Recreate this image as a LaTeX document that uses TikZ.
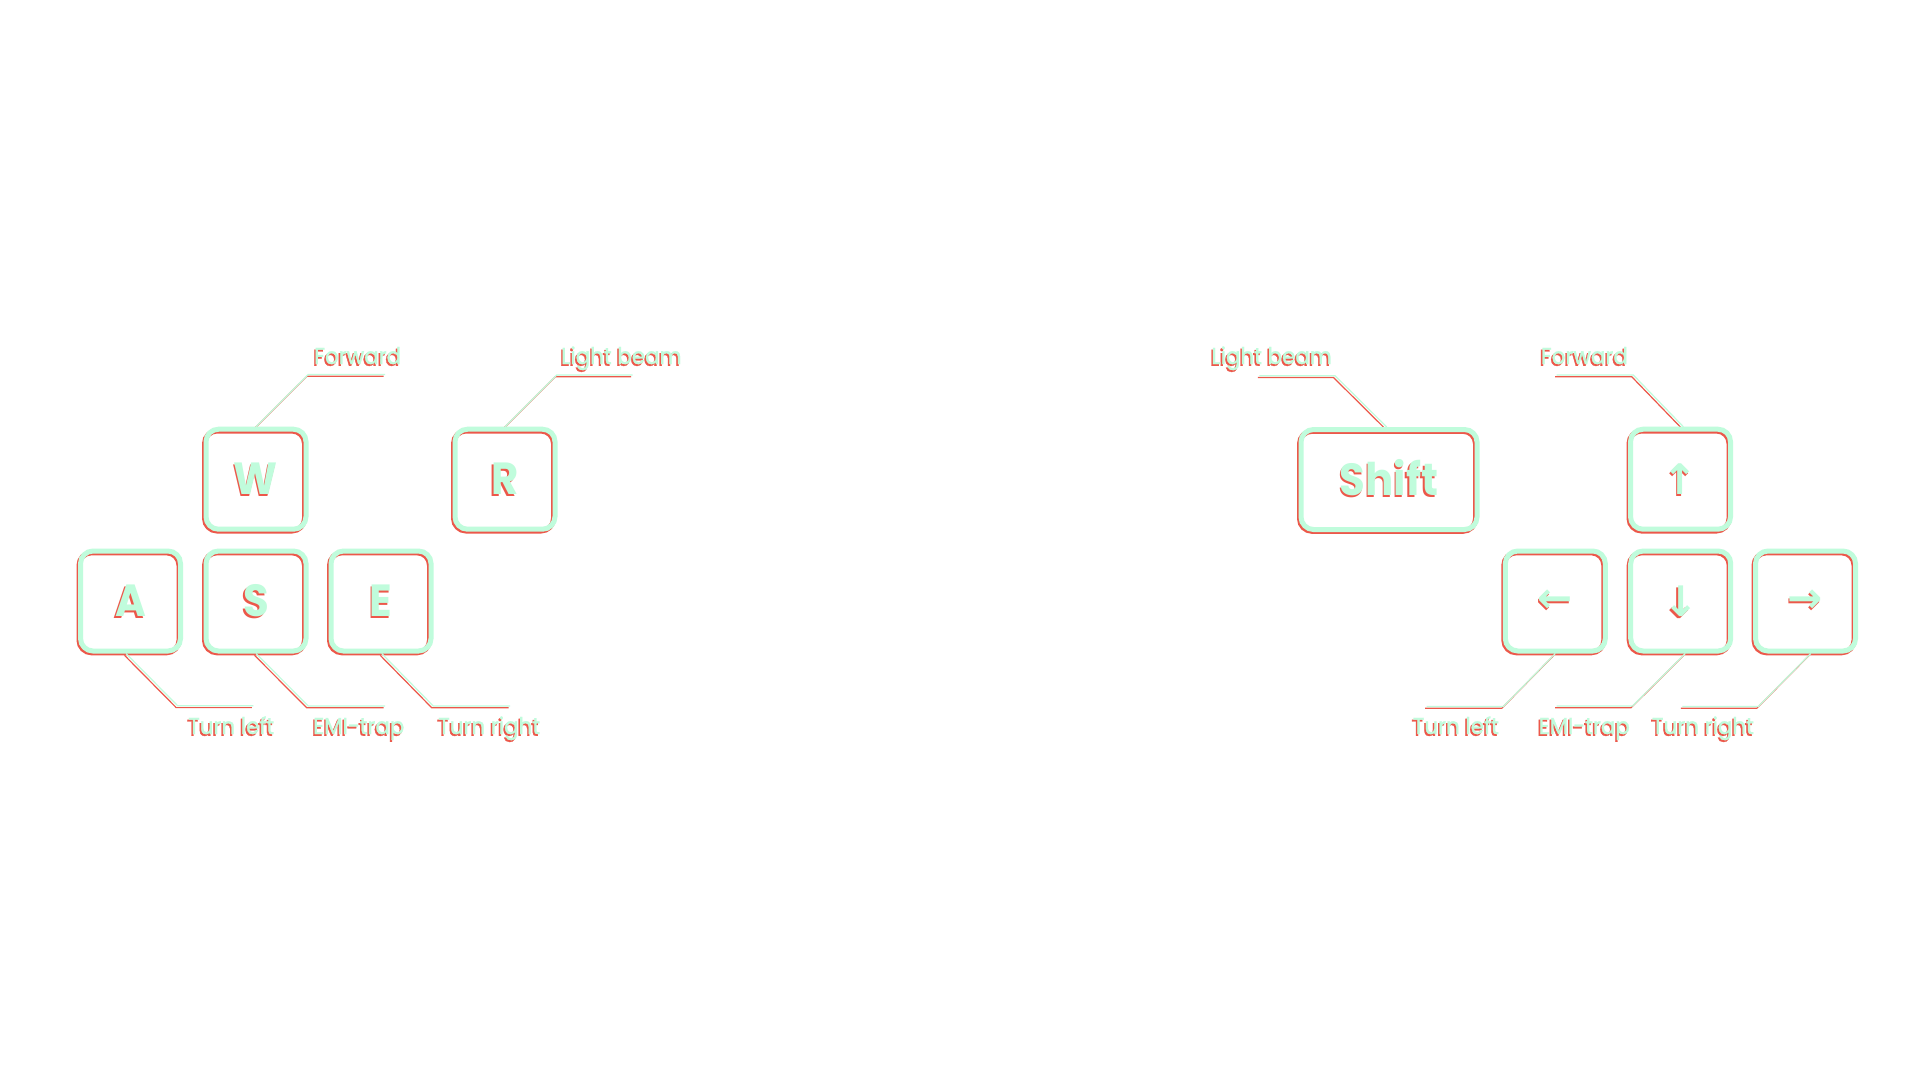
\documentclass[tikz,border=0pt]{standalone}
\usepackage{fontspec}
\setmainfont{Poppins}
\newfontfamily\lblfont{Poppins}[FakeStretch=0.93, FakeBold=1.3]
\newfontfamily\keyfont{Poppins Bold}[FakeStretch=0.93]
\newfontfamily\arrowfont{DejaVu Sans Bold}
\definecolor{mintc}{RGB}{192,252,220}
\definecolor{redc}{RGB}{236,88,74}
\colorlet{lc}{mintc}
\tikzset{
  keyshape/.style={draw=lc, line width=5pt, rounded corners=12.5pt,
    minimum width=100pt, minimum height=100pt, inner sep=0pt, text=lc},
  letterkey/.style={keyshape, font=\fontsize{45}{50}\selectfont\keyfont,
    text height=31.5pt, text depth=0pt},
  widekey/.style={letterkey, minimum width=176pt},
  arrowkey/.style={keyshape, font=\fontsize{42}{50}\selectfont\arrowfont},
  leader/.style={draw=lc, line width=1.2pt},
  lblL/.style={anchor=base west, inner sep=0pt, text=lc,
    font=\fontsize{23}{26}\selectfont\lblfont},
  lblR/.style={lblL, anchor=base east},
}
\newcommand\keylayer{%
  % left cluster
  \node[letterkey] (W) at (256,479.2) {W};
  \node[letterkey] (R) at (505,479.2) {R};
  \node[letterkey] (A) at (130.5,601) {A};
  \node[letterkey] (S) at (256,601) {S};
  \node[letterkey] (E) at (381,601) {E};
  % right cluster
  \node[widekey] (Shift) at (1389,479.5) {Shift};
  \node[arrowkey] (Up) at (1680.5,479.2) {↑};
  \node[arrowkey] (Left) at (1555.3,601) {←};
  \node[arrowkey] (Down) at (1680.7,601) {↓};
  \node[arrowkey] (Right) at (1805.5,601) {→};
  % leaders, left cluster
  \coordinate (Wc) at (308.3,374.5); \coordinate (We) at (385,374.5);
  \draw[leader] (W.north) -- (Wc) -- (We);
  \node[lblL] (Wl) at (314,364) {Forward};
  \coordinate (Rc) at (556.7,375); \coordinate (Re) at (632.7,375);
  \draw[leader] (R.north) -- (Rc) -- (Re);
  \node[lblL] (Rl) at (561,364) {Light beam};
  \coordinate (Ac) at (177.7,705.8); \coordinate (Ae) at (253.3,705.8);
  \draw[leader] ([xshift=-4.5pt]A.south) -- (Ac) -- (Ae);
  \node[lblL] (Al) at (188,734) {Turn left};
  \coordinate (Sc) at (308.3,706); \coordinate (Se) at (385,706);
  \draw[leader] (S.south) -- (Sc) -- (Se);
  \node[lblL] (Sl) at (313,734) {EMI-trap};
  \coordinate (Ec) at (433.3,706); \coordinate (Ee) at (510,706);
  \draw[leader] ([xshift=0.7pt]E.south) -- (Ec) -- (Ee);
  \node[lblL] (El) at (438,734) {Turn right};
  % leaders, right cluster
  \coordinate (Shc) at (1335,375.7); \coordinate (She) at (1259.3,375.7);
  \draw[leader] ([xshift=-2.3pt]Shift.north) -- (Shc) -- (She);
  \node[lblR] (Shl) at (1332,364) {Light beam};
  \coordinate (Uc) at (1633.3,375); \coordinate (Ue) at (1556.7,375);
  \draw[leader] ([xshift=2.8pt]Up.north) -- (Uc) -- (Ue);
  \node[lblR] (Ul) at (1628,364) {Forward};
  \coordinate (Lc) at (1503.3,706.5); \coordinate (Le) at (1426.7,706.5);
  \draw[leader] (Left.south) -- (Lc) -- (Le);
  \node[lblR] (Ll) at (1499,734) {Turn left};
  \coordinate (Dc) at (1632.5,706); \coordinate (De) at (1556.7,706);
  \draw[leader] ([xshift=4.6pt]Down.south) -- (Dc) -- (De);
  \node[lblR] (Dl) at (1630,734) {EMI-trap};
  \coordinate (Rtc) at (1758.3,706.5); \coordinate (Rte) at (1682.3,706.5);
  \draw[leader] ([xshift=5.2pt]Right.south) -- (Rtc) -- (Rte);
  \node[lblR] (Rtl) at (1754,734) {Turn right};
}
\begin{document}
\begin{tikzpicture}[x=1pt,y=-1pt]
  \useasboundingbox (0,0) rectangle (1920,1080);
  \fill[white] (0,0) rectangle (1920,1080);
  \begin{scope}[shift={(-1.5,1.8)}, name prefix=r-]
    \colorlet{lc}{redc}
    \keylayer
  \end{scope}
  \begin{scope}[name prefix=m-]
    \colorlet{lc}{mintc}
    \keylayer
  \end{scope}
\end{tikzpicture}
\end{document}
